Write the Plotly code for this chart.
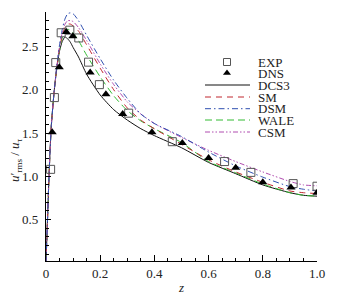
import plotly.graph_objects as go

# ---------------- data ----------------
exp_z = [0.017, 0.031, 0.036, 0.056, 0.088, 0.121, 0.157, 0.197, 0.305, 0.466, 0.659, 0.756, 0.912, 1.0]
exp_u = [1.08, 1.91, 2.315, 2.66, 2.69, 2.60, 2.32, 2.06, 1.73, 1.40, 1.17, 1.045, 0.915, 0.885]

dns_z = [0.023, 0.049, 0.075, 0.099, 0.163, 0.221, 0.283, 0.391, 0.503, 0.60, 0.70, 0.80, 0.904, 1.0]
dns_u = [1.51, 2.26, 2.67, 2.62, 2.20, 1.95, 1.72, 1.51, 1.385, 1.21, 1.10, 0.93, 0.87, 0.81]

z_grid = [0.0, 0.005, 0.01, 0.015, 0.02, 0.03, 0.04, 0.05, 0.06, 0.07, 0.08, 0.09, 0.10,
          0.12, 0.15, 0.20, 0.25, 0.30, 0.35, 0.40, 0.50, 0.60, 0.70, 0.80, 0.90, 0.95, 1.0]

dcs3 = [0.0, 0.45, 0.90, 1.30, 1.60, 1.98, 2.25, 2.45, 2.56, 2.61, 2.59, 2.55, 2.49,
        2.38, 2.18, 1.94, 1.77, 1.65, 1.55, 1.47, 1.33, 1.16, 1.03, 0.90, 0.81, 0.78, 0.77]
sm   = [0.0, 0.45, 0.90, 1.30, 1.60, 1.98, 2.26, 2.48, 2.63, 2.72, 2.76, 2.76, 2.74,
        2.68, 2.52, 2.25, 2.00, 1.79, 1.65, 1.55, 1.37, 1.19, 1.05, 0.93, 0.83, 0.81, 0.80]
dsm  = [0.0, 0.45, 0.90, 1.30, 1.60, 1.98, 2.28, 2.52, 2.70, 2.82, 2.88, 2.89, 2.88,
        2.80, 2.63, 2.36, 2.11, 1.90, 1.72, 1.61, 1.46, 1.28, 1.12, 0.99, 0.88, 0.85, 0.83]
wale = [0.0, 0.45, 0.90, 1.30, 1.60, 1.98, 2.25, 2.46, 2.60, 2.68, 2.70, 2.69, 2.66,
        2.57, 2.40, 2.15, 1.93, 1.76, 1.64, 1.55, 1.39, 1.17, 1.04, 0.91, 0.81, 0.78, 0.77]
csm  = [0.0, 0.45, 0.90, 1.30, 1.60, 1.98, 2.27, 2.50, 2.66, 2.76, 2.80, 2.80, 2.79,
        2.72, 2.57, 2.30, 2.06, 1.86, 1.72, 1.61, 1.45, 1.30, 1.17, 1.05, 0.94, 0.90, 0.89]

x_ticks = [0, 0.2, 0.4, 0.6, 0.8, 1.0]
x_tick_labels = ["0", "0.2", "0.4", "0.6", "0.8", "1.0"]
y_ticks = [0.5, 1.0, 1.5, 2.0, 2.5]
y_tick_labels = ["0.5", "1.0", "1.5", "2.0", "2.5"]

legend_names = ["EXP", "DNS", "DCS3", "SM", "DSM", "WALE", "CSM"]

# ---------------- styles ----------------
FONT = "Liberation Serif, Times New Roman, serif"
styles = {
    "DCS3": dict(color="#111111", dash="solid"),
    "SM":   dict(color="#c0262e", dash="6px,5px"),
    "DSM":  dict(color="#2f4fb0", dash="6px,3px,1.5px,3px"),
    "WALE": dict(color="#33bb33", dash="7px,4px"),
    "CSM":  dict(color="#b04cb0", dash="5px,2px,1.5px,2px,1.5px,2px"),
}
sq_marker = dict(symbol="square-open", size=8, color="#555555", line=dict(width=1, color="#555555"))
tri_marker = dict(symbol="triangle-up", size=8, color="#000000")

fig = go.Figure()

curves = {"DCS3": dcs3, "SM": sm, "DSM": dsm, "WALE": wale, "CSM": csm}
for name in ["DCS3", "WALE", "SM", "CSM", "DSM"]:
    st = styles[name]
    fig.add_trace(go.Scatter(x=z_grid, y=curves[name], mode="lines", name=name,
                             line=dict(color=st["color"], dash=st["dash"], width=1, shape="spline", smoothing=0.6),
                             showlegend=False))

fig.add_trace(go.Scatter(x=exp_z, y=exp_u, mode="markers", name="EXP", marker=sq_marker, showlegend=False))
fig.add_trace(go.Scatter(x=dns_z, y=dns_u, mode="markers", name="DNS", marker=tri_marker, showlegend=False))

# ---------------- manual legend (window-pixel overlay axes) ----------------
leg_rows = [62, 73, 85, 97, 108.7, 120, 132]
line_x0, line_x1, mark_x, text_x = 205, 250, 227, 256
for name, ry in zip(legend_names, leg_rows):
    if name == "EXP":
        fig.add_trace(go.Scatter(x=[mark_x], y=[ry], mode="markers", marker=dict(sq_marker, size=7),
                                 xaxis="x2", yaxis="y2", showlegend=False, hoverinfo="skip"))
    elif name == "DNS":
        fig.add_trace(go.Scatter(x=[mark_x], y=[ry], mode="markers", marker=dict(tri_marker, size=7),
                                 xaxis="x2", yaxis="y2", showlegend=False, hoverinfo="skip"))
    else:
        st = styles[name]
        fig.add_trace(go.Scatter(x=[line_x0, line_x1], y=[ry, ry], mode="lines",
                                 line=dict(color=st["color"], dash=st["dash"], width=1),
                                 xaxis="x2", yaxis="y2", showlegend=False, hoverinfo="skip"))
    fig.add_annotation(x=text_x, y=ry, xref="x2", yref="y2", text=name, showarrow=False,
                       xanchor="left", yanchor="middle", font=dict(family=FONT, size=13, color="#222222"))

# y tick labels placed on the y scale (yref='y') from the tick lists
for v, lab in zip(y_ticks, y_tick_labels):
    fig.add_annotation(x=-6 / 271, y=v, xref="paper", yref="y", text=lab, showarrow=False,
                       xanchor="right", yanchor="middle", font=dict(family=FONT, size=13, color="#222222"))

# axis titles (paper coords; plot area spans px x 46..317, y 12..261)
fig.add_annotation(x=(15 - 46) / 271, y=(261 - 160) / 249, xref="paper", yref="paper",
                   xanchor="center", yanchor="middle", textangle=-90, showarrow=False,
                   text="<i>u</i>′<sub>rms</sub> / <i>u</i><sub>τ</sub>",
                   font=dict(family=FONT, size=13, color="#222222"))
fig.add_annotation(x=(181 - 46) / 271, y=(261 - 287) / 249, xref="paper", yref="paper",
                   xanchor="center", yanchor="middle", showarrow=False, text="<i>z</i>",
                   font=dict(family=FONT, size=13, color="#222222"))

fig.update_layout(
    width=339, height=295,
    margin=dict(l=46, r=22, t=12, b=34),
    paper_bgcolor="white", plot_bgcolor="white",
    font=dict(family=FONT, size=13, color="#222222"),
    xaxis=dict(range=[0, 1.0], tickvals=x_ticks, ticktext=x_tick_labels, ticks="inside", ticklen=6,
               tickcolor="black", showline=True, linecolor="black", linewidth=1, showgrid=False,
               zeroline=False,
               minor=dict(ticks="inside", dtick=0.05, ticklen=3, tickcolor="black")),
    yaxis=dict(range=[0.02, 2.9], tickvals=y_ticks, showticklabels=False, ticks="inside", ticklen=5,
               tickcolor="black", showline=True, linecolor="black", linewidth=1, showgrid=False,
               zeroline=False,
               minor=dict(ticks="inside", dtick=0.1, ticklen=3, tickcolor="black")),
    xaxis2=dict(overlaying="x", range=[46, 317], visible=False, fixedrange=True),
    yaxis2=dict(overlaying="y", range=[261, 12], visible=False, fixedrange=True),
)

# remove the browser's default 8px body margin so the figure sits at the window origin
fig.write_html("out.html", config={"displayModeBar": False},
               post_script="document.body.style.margin='0';document.body.style.overflow='hidden';")
